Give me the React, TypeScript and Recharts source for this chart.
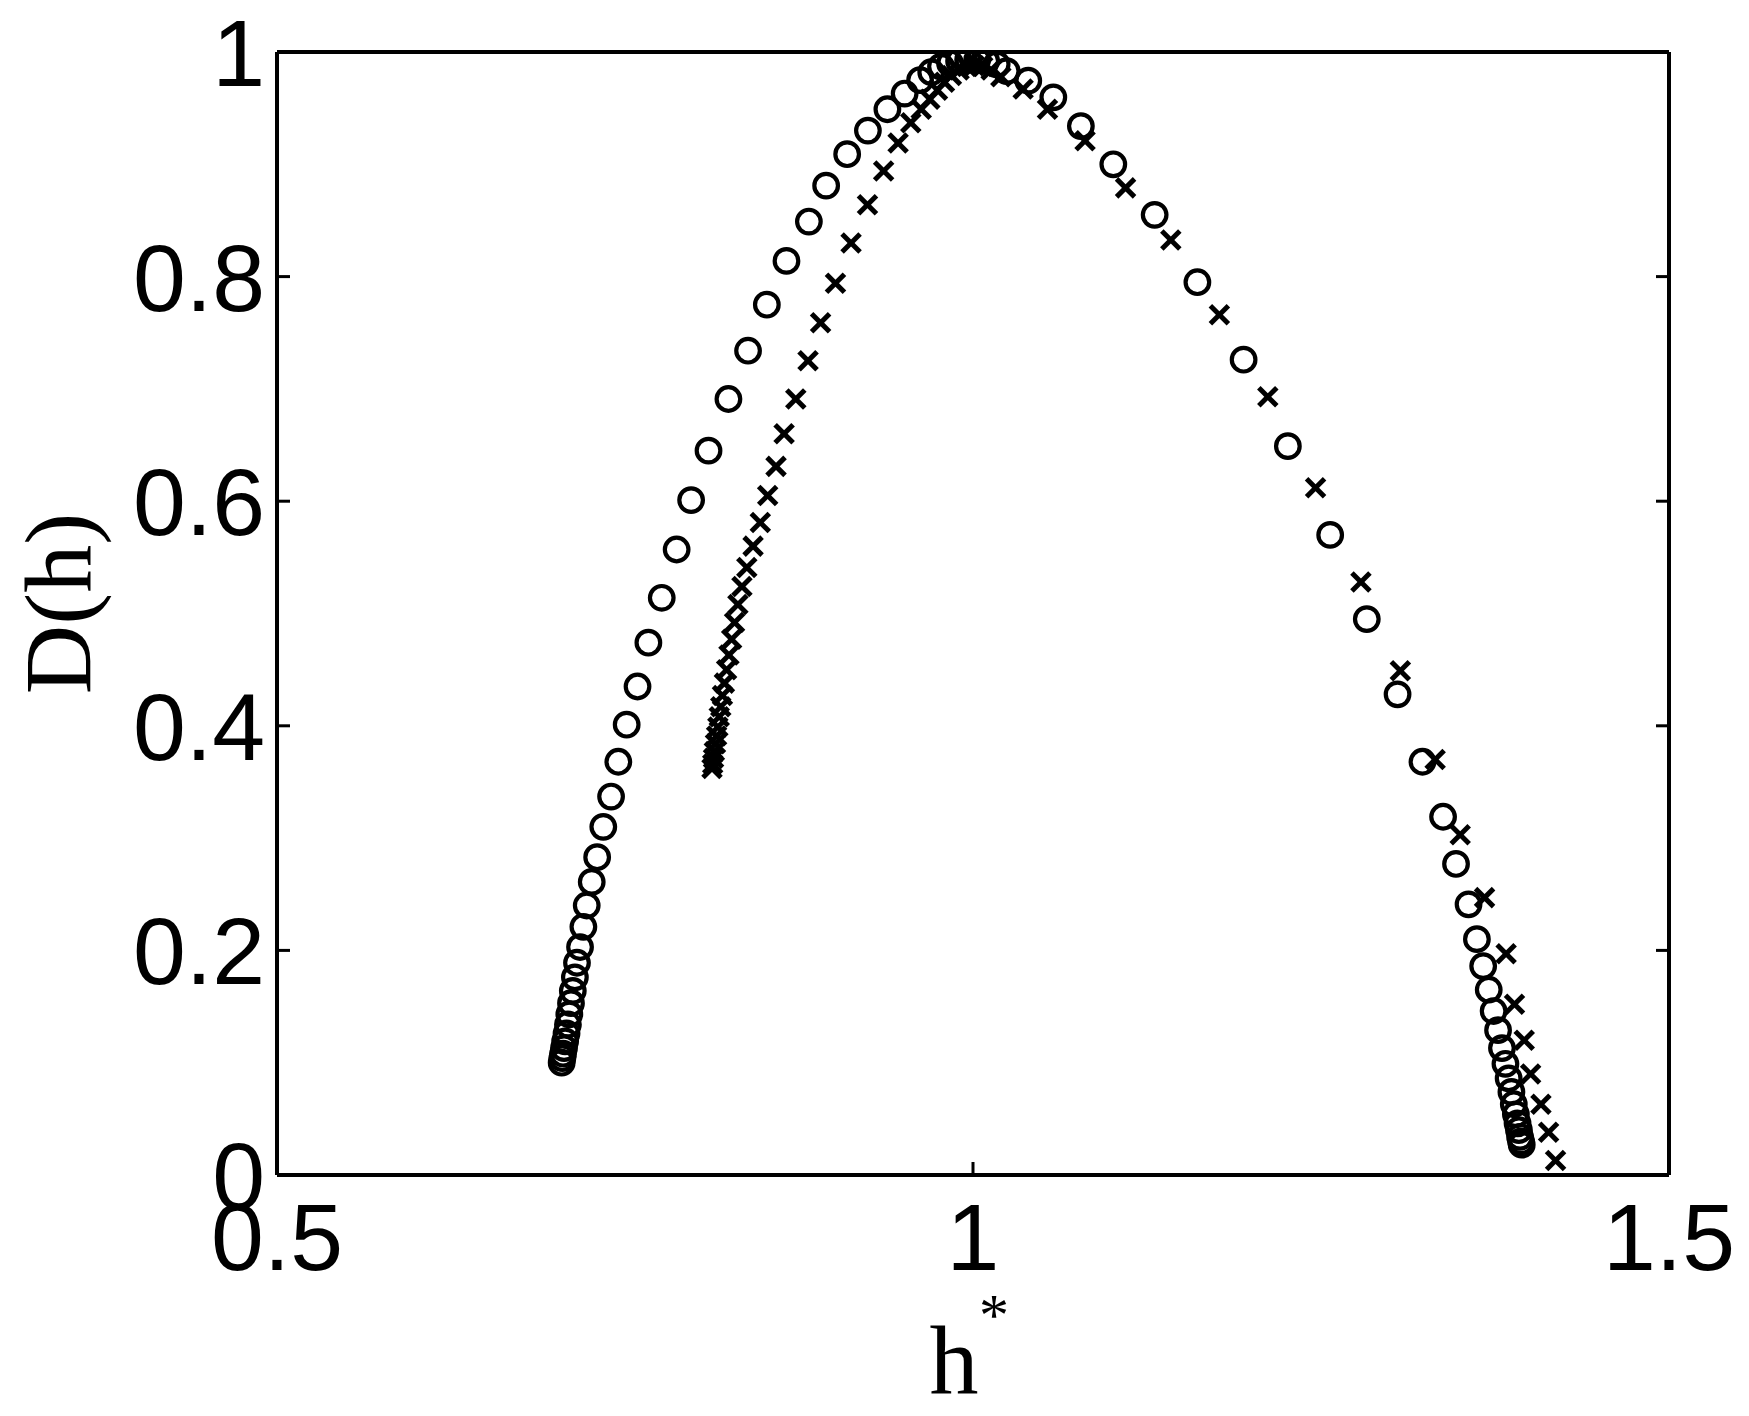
import React from 'react';
import { ScatterChart, Scatter, XAxis, YAxis } from 'recharts';

// Series 1 (circles): h* values and D(h) values
const circleH = [
  0.7045, 0.705, 0.7055, 0.7062, 0.707, 0.708, 0.709, 0.71, 0.7112, 0.7125, 0.714, 0.7155,
  0.7177, 0.7201, 0.7225, 0.7261, 0.73, 0.7344, 0.74, 0.7452, 0.7512, 0.759, 0.7668, 0.7764,
  0.7871, 0.7975, 0.81, 0.8243, 0.8384, 0.8519, 0.866, 0.8821, 0.8945, 0.9096, 0.9245, 0.9385,
  0.9509, 0.962, 0.97, 0.977, 0.9835, 0.99, 0.9965, 1.003, 1.0095, 1.017, 1.0242, 1.0397,
  1.0577, 1.0775, 1.1008, 1.1305, 1.1612, 1.1944, 1.2262, 1.2566, 1.2829, 1.305, 1.3229,
  1.3377, 1.347, 1.356, 1.362, 1.3665, 1.3705, 1.374, 1.3772, 1.38, 1.3825, 1.3848, 1.3868,
  1.3885, 1.39, 1.3912, 1.3922, 1.393, 1.3937, 1.3942,
];
const circleD = [
  0.1, 0.104, 0.108, 0.113, 0.119, 0.126, 0.134, 0.143, 0.153, 0.164, 0.176, 0.189,
  0.203, 0.221, 0.24, 0.261, 0.283, 0.31, 0.337, 0.368, 0.401, 0.435, 0.474, 0.514,
  0.557, 0.601, 0.645, 0.691, 0.734, 0.775, 0.814, 0.849, 0.881, 0.909, 0.93, 0.949,
  0.963, 0.975, 0.982, 0.987, 0.99, 0.992, 0.993, 0.993, 0.992, 0.989, 0.983, 0.9745,
  0.9596, 0.934, 0.9, 0.855, 0.795, 0.726, 0.649, 0.57, 0.495, 0.428, 0.368,
  0.319, 0.277, 0.241, 0.21, 0.186, 0.165, 0.146, 0.129, 0.113, 0.099, 0.086, 0.074,
  0.063, 0.054, 0.046, 0.04, 0.034, 0.03, 0.027,
];

// Series 2 (crosses): h* values and D(h) values
const crossH = [
  0.8125, 0.813, 0.8136, 0.8142, 0.815, 0.8158, 0.8167, 0.8177, 0.8188, 0.82, 0.8214, 0.823,
  0.8247, 0.8266, 0.8287, 0.8311, 0.834, 0.8375, 0.842, 0.8472, 0.8525, 0.8585, 0.8643, 0.8727,
  0.8815, 0.8905, 0.9012, 0.9124, 0.9242, 0.9358, 0.9462, 0.9553, 0.9628, 0.969, 0.9745, 0.9795,
  0.9845, 0.99, 0.9955, 1.001, 1.007, 1.013, 1.02, 1.036, 1.0535, 1.0805, 1.1096, 1.1421,
  1.177, 1.2118, 1.2461, 1.2787, 1.307, 1.332, 1.35, 1.3675, 1.383, 1.389, 1.396, 1.4006,
  1.408, 1.4135, 1.4185,
];
const crossD = [
  0.362, 0.366, 0.371, 0.377, 0.384, 0.391, 0.399, 0.408, 0.417, 0.427, 0.438, 0.45,
  0.463, 0.477, 0.492, 0.508, 0.524, 0.541, 0.56, 0.581, 0.605, 0.631, 0.66, 0.691,
  0.725, 0.759, 0.794, 0.83, 0.864, 0.894, 0.919, 0.937, 0.949, 0.958, 0.966, 0.973,
  0.979, 0.984, 0.987, 0.988, 0.987, 0.984, 0.978, 0.967, 0.949, 0.921, 0.879, 0.8325,
  0.766, 0.693, 0.612, 0.528, 0.449, 0.37, 0.303, 0.247, 0.197, 0.152, 0.12, 0.09,
  0.063, 0.038, 0.013,
];

const xTicks = [0.5, 1, 1.5];
const yTicks = [0, 0.2, 0.4, 0.6, 0.8, 1];
const xDomain = [0.5, 1.5];
const yDomain = [0, 1];
const xLabelMain = 'h';
const xLabelSup = '*';
const yLabelText = 'D(h)';

const circleData = circleH.map((h, i) => ({ h, d: circleD[i] }));
const crossData = crossH.map((h, i) => ({ h, d: crossD[i] }));

const W = 1749;
const H = 1416;
const SANS = '"Liberation Sans", Arial, sans-serif';
const SERIF = '"Liberation Serif", "Times New Roman", serif';

const CircleMark = (props: any) => {
  const { cx, cy } = props;
  if (cx == null || cy == null) return <g />;
  return <circle cx={cx} cy={cy} r={11.8} fill="none" stroke="#000" strokeWidth={4.2} />;
};

const CrossMark = (props: any) => {
  const { cx, cy } = props;
  if (cx == null || cy == null) return <g />;
  const s = 9;
  return (
    <g stroke="#000" strokeWidth={5} strokeLinecap="butt">
      <line x1={cx - s} y1={cy - s} x2={cx + s} y2={cy + s} />
      <line x1={cx - s} y1={cy + s} x2={cx + s} y2={cy - s} />
    </g>
  );
};

const HiddenMark = () => <g />;

const XTick = (props: any) => {
  const { x, y, payload } = props;
  return (
    <text x={x} y={y + 95} textAnchor="middle" fontFamily={SANS} fontSize={95} fill="#000">
      {String(payload.value)}
    </text>
  );
};

const YTick = (props: any) => {
  const { x, y, payload } = props;
  return (
    <text x={x - 12} y={y + 34} textAnchor="end" fontFamily={SANS} fontSize={95} fill="#000">
      {String(payload.value)}
    </text>
  );
};

const NoTick = () => <g />;

const XLabel = (props: any) => {
  const vb = props.viewBox || {};
  const cx = vb.x + vb.width / 2;
  const y = vb.y;
  return (
    <g>
      <text x={cx - 19} y={y + 218} textAnchor="middle" fontFamily={SERIF} fontSize={98} fill="#000">
        {xLabelMain}
      </text>
      <text x={cx + 21} y={y + 160} textAnchor="middle" fontFamily={SERIF} fontSize={60} fill="#000">
        {xLabelSup}
      </text>
    </g>
  );
};

const YLabel = (props: any) => {
  const vb = props.viewBox || {};
  const bx = vb.x + 91 - 77;
  const cy = vb.y + vb.height / 2 - 10;
  return (
    <text
      x={bx}
      y={cy}
      transform={`rotate(-90, ${bx}, ${cy})`}
      textAnchor="middle"
      fontFamily={SERIF}
      fontSize={96}
      fill="#000"
    >
      {yLabelText}
    </text>
  );
};

const axisLineStyle = { stroke: '#000', strokeWidth: 4 };
const tickLineStyle = { stroke: '#000', strokeWidth: 3 };

export default function App() {
  return (
    <div style={{ width: W, height: H, margin: '-8px 0 -8px -8px', background: '#fff' }}>
      <ScatterChart width={W} height={H} margin={{ top: 51, right: 79, bottom: 91, left: 77 }}>
        <XAxis
          dataKey="h"
          type="number"
          domain={xDomain}
          ticks={xTicks}
          allowDataOverflow
          height={150}
          axisLine={axisLineStyle}
          tickLine={tickLineStyle}
          tickSize={-13}
          tickMargin={13}
          tick={<XTick />}
          interval={0}
          label={<XLabel />}
        />
        <XAxis
          xAxisId="top"
          dataKey="h"
          orientation="top"
          type="number"
          domain={xDomain}
          ticks={xTicks}
          allowDataOverflow
          height={1}
          axisLine={axisLineStyle}
          tickLine={tickLineStyle}
          tickSize={-13}
          tick={NoTick}
          interval={0}
        />
        <YAxis
          dataKey="d"
          type="number"
          domain={yDomain}
          ticks={yTicks}
          allowDataOverflow
          width={200}
          axisLine={axisLineStyle}
          tickLine={tickLineStyle}
          tickSize={-13}
          tickMargin={13}
          tick={<YTick />}
          interval={0}
          label={<YLabel />}
        />
        <YAxis
          yAxisId="right"
          dataKey="d"
          orientation="right"
          type="number"
          domain={yDomain}
          ticks={yTicks}
          allowDataOverflow
          width={1}
          axisLine={axisLineStyle}
          tickLine={tickLineStyle}
          tickSize={-13}
          tick={NoTick}
          interval={0}
        />
        <Scatter
          data={circleData}
          xAxisId="top"
          yAxisId="right"
          shape={<HiddenMark />}
          isAnimationActive={false}
        />
        <Scatter data={circleData} shape={<CircleMark />} isAnimationActive={false} />
        <Scatter data={crossData} shape={<CrossMark />} isAnimationActive={false} />
      </ScatterChart>
    </div>
  );
}
